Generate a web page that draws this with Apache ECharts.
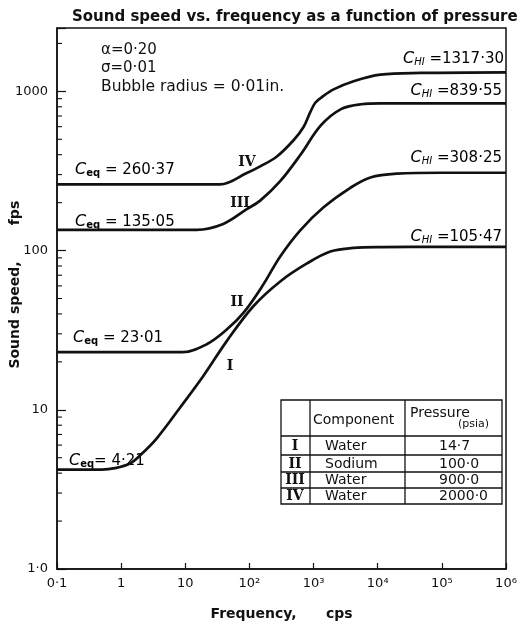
<!DOCTYPE html>
<html><head><meta charset="utf-8">
<script src="https://cdn.jsdelivr.net/npm/echarts@6/dist/echarts.min.js"></script>
<style>html,body{margin:0;padding:0;background:#fff}#c{width:522px;height:626px}</style>
</head><body><div id="c"></div>
<script>
// ---- data ----
const freqI   = [0.1, 0.5, 0.8, 1.37, 2, 3.57, 8.26, 19.1, 44.3, 115, 302, 789, 1824, 4200, 11000, 100000, 1000000];
const speedI  = [4.21, 4.21, 4.3, 4.6, 5.2, 6.6, 10.3, 16.3, 27, 44.7, 64, 83, 98.6, 104, 105.2, 105.47, 105.47];
const freqII  = [0.1, 9, 21.6, 44.3, 80.6, 158, 302, 620, 1432, 3744, 7690, 20000, 100000, 1000000];
const speedII = [23.01, 23.01, 25.8, 31.9, 40.6, 59.6, 91.8, 134, 187, 248, 288, 304, 308.25, 308.25];
const freqIII = [0.1, 15, 39, 91, 147, 302, 620, 1297, 2676, 5500, 11000, 1000000];
const speedIII= [135.05, 135.05, 147, 182, 206, 273, 398, 611, 774, 830, 839.55, 839.55];
const freqIV  = [0.1, 35, 91, 147, 268, 487, 698, 888, 1070, 1380, 2054, 4200, 11000, 46400, 1000000];
const speedIV = [260.37, 260.37, 307, 338, 390, 493, 597, 740, 851, 927, 1029, 1158, 1274, 1305, 1317.3];

const xTickLabels = ['0·1', '1', '10', '10²', '10³', '10⁴', '10⁵', '10⁶'];
const yTickLabels = ['1·0', '10', '100', '1000'];
const yMinorTicks = [2,3,4,5,6,7,8,9,20,30,40,50,60,70,80,90,200,300,400,500,600,700,800,900,2000];

const ceqLabels = ['4·21', '23·01', '135·05', '260·37'];
const chiLabels = ['105·47', '308·25', '839·55', '1317·30'];
const curveNames = ['I', 'II', 'III', 'IV'];
const components = ['Water', 'Sodium', 'Water', 'Water'];
const pressures = ['14·7', '100·0', '900·0', '2000·0'];

const FONT = 'DejaVu Sans';
const chart = echarts.init(document.getElementById('c'), null, {renderer: 'canvas'});

function pairs(xs, ys) { return xs.map((x, i) => [x, ys[i]]); }
function lineSeries(name, xs, ys) {
  return {
    name, type: 'line', data: pairs(xs, ys), showSymbol: false, symbol: 'none',
    smooth: 0.35,
    lineStyle: {color: '#111', width: 2.7}, silent: true, z: 3
  };
}
const richC = {
  c: {fontFamily: FONT, fontStyle: 'italic', fontSize: 16, color: '#111', verticalAlign: 'bottom'},
  se: {fontFamily: FONT, fontSize: 10, color: '#111', verticalAlign: 'bottom', fontWeight: 'bold'},
  sh: {fontFamily: FONT, fontSize: 10, fontStyle: 'italic', color: '#111', verticalAlign: 'bottom'},
  v: {fontFamily: FONT, fontSize: 15, color: '#111', verticalAlign: 'bottom'}
};
function ceqText(x, y, val, gap) {
  return {type: 'text', left: x, top: y, style: {text: '{c|C}{se|eq}{v|' + gap + val + '}', rich: richC}};
}
function chiText(rightX, y, val) {
  return {type: 'text', right: rightX, top: y, style: {text: '{c|C}{sh|HI}{v| =' + val + '}', rich: richC}};
}
const txt = (x, y, s, opt) => Object.assign({type: 'text', x, y, style: Object.assign({text: s, fontFamily: FONT, fontSize: 14, fill: '#111', textVerticalAlign: 'middle'}, opt || {})});
const ln = (x1, y1, x2, y2) => ({type: 'line', shape: {x1, y1, x2, y2}, style: {stroke: '#111', lineWidth: 1.3}});

const roman = (x, y, s) => txt(x, y, s, {fontFamily: 'DejaVu Serif', fontWeight: 'bold', fontSize: 14, textAlign: 'center'});

// table geometry
const tL = 281, tC1 = 310, tC2 = 405, tR = 502, tT = 400, tH = 436;
const rowLines = [455, 472, 488, 504];
const graphics = [
  txt(101, 50, 'α=0·20', {fontSize: 15}),
  txt(101, 68, 'σ=0·01', {fontSize: 15}),
  txt(101, 87, 'Bubble radius = 0·01in.', {fontSize: 15.5}),
  ceqText(69, 453, ceqLabels[0], '= '),
  ceqText(73, 330, ceqLabels[1], ' = '),
  ceqText(75, 214, ceqLabels[2], ' = '),
  ceqText(75, 162, ceqLabels[3], ' = '),
  chiText(20, 229, chiLabels[0]),
  chiText(20, 150, chiLabels[1]),
  chiText(20, 83, chiLabels[2]),
  chiText(18, 51, chiLabels[3]),
  roman(230, 366, curveNames[0]),
  roman(237, 302, curveNames[1]),
  roman(240, 203, curveNames[2]),
  roman(247, 162, curveNames[3]),
  // table
  {type: 'rect', shape: {x: tL, y: tT, width: tR - tL, height: rowLines[3] - tT}, style: {fill: '#fff', stroke: '#111', lineWidth: 1.3}, z: 10},
  Object.assign(ln(tC1, tT, tC1, rowLines[3]), {z: 11}),
  Object.assign(ln(tC2, tT, tC2, rowLines[3]), {z: 11}),
  Object.assign(ln(tL, tH, tR, tH), {z: 11}),
  Object.assign(ln(tL, rowLines[0], tR, rowLines[0]), {z: 11}),
  Object.assign(ln(tL, rowLines[1], tR, rowLines[1]), {z: 11}),
  Object.assign(ln(tL, rowLines[2], tR, rowLines[2]), {z: 11}),
  Object.assign(txt(313, 420, 'Component', {}), {z: 12}),
  Object.assign(txt(410, 413, 'Pressure', {}), {z: 12}),
  Object.assign(txt(458, 424, '(psia)', {fontSize: 11}), {z: 12})
];
const rowY = [446, 464, 480, 496];
for (let i = 0; i < 4; i++) {
  graphics.push(Object.assign(roman(295, rowY[i], curveNames[i]), {z: 12}));
  graphics.push(Object.assign(txt(325, rowY[i], components[i]), {z: 12}));
  graphics.push(Object.assign(txt(439, rowY[i], pressures[i]), {z: 12}));
}
// y-axis name (two parts, rotated)
graphics.push({type: 'text', x: 15, y: 315, rotation: Math.PI / 2,
  style: {text: 'Sound speed,', fontFamily: FONT, fontSize: 14, fontWeight: 'bold', fill: '#111', textAlign: 'center', textVerticalAlign: 'middle'}});
graphics.push({type: 'text', x: 15, y: 213, rotation: Math.PI / 2,
  style: {text: 'fps', fontFamily: FONT, fontSize: 14, fontWeight: 'bold', fill: '#111', textAlign: 'center', textVerticalAlign: 'middle'}});

const option = {
  backgroundColor: '#fff',
  animation: false,
  title: {text: 'Sound speed vs. frequency as a function of pressure', left: 67, top: 5,
    textStyle: {fontFamily: FONT, fontSize: 15, fontWeight: 'bold', color: '#111'}},
  grid: {left: 57, right: 16, top: 28, bottom: 53, show: true, borderColor: '#111', borderWidth: 1.5, backgroundColor: 'transparent'},
  xAxis: {
    type: 'log', logBase: 10, min: 0.1, max: 1000000,
    name: 'Frequency,      cps', nameLocation: 'middle', nameGap: 38,
    nameTextStyle: {fontFamily: FONT, fontSize: 14, fontWeight: 'bold', color: '#111'},
    axisLine: {lineStyle: {color: '#111', width: 1.5}},
    axisTick: {inside: true, length: 6, lineStyle: {color: '#111', width: 1.2}},
    splitLine: {show: false},
    axisLabel: {fontFamily: FONT, fontSize: 13, color: '#111', margin: 8,
      formatter: v => { const e = Math.round(Math.log10(v)); return xTickLabels[e + 1] || ''; }}
  },
  yAxis: {
    type: 'log', logBase: 10, min: 1, max: 2500,
    axisLine: {lineStyle: {color: '#111', width: 1.5}},
    axisTick: {inside: true, length: 9, lineStyle: {color: '#111', width: 1.2}},
    splitLine: {show: false},
    axisLabel: {fontFamily: FONT, fontSize: 13, color: '#111', margin: 9,
      formatter: v => { const e = Math.log10(v); if (Math.abs(e - Math.round(e)) > 1e-6) return ''; return yTickLabels[Math.round(e)] || ''; }}
  },
  series: [
    lineSeries('I', freqI, speedI),
    lineSeries('II', freqII, speedII),
    lineSeries('III', freqIII, speedIII),
    lineSeries('IV', freqIV, speedIV),
    {
      type: 'custom', silent: true, clip: false,
      data: yMinorTicks.map(v => [0.1, v]),
      encode: {x: 0, y: 1},
      renderItem: (params, api) => {
        const p = api.coord([api.value(0), api.value(1)]);
        return {type: 'line', shape: {x1: p[0], y1: p[1], x2: p[0] + 5, y2: p[1]}, style: {stroke: '#111', lineWidth: 1.1}};
      }
    }
  ],
  graphic: graphics
};
chart.setOption(option);
</script>
</body></html>
